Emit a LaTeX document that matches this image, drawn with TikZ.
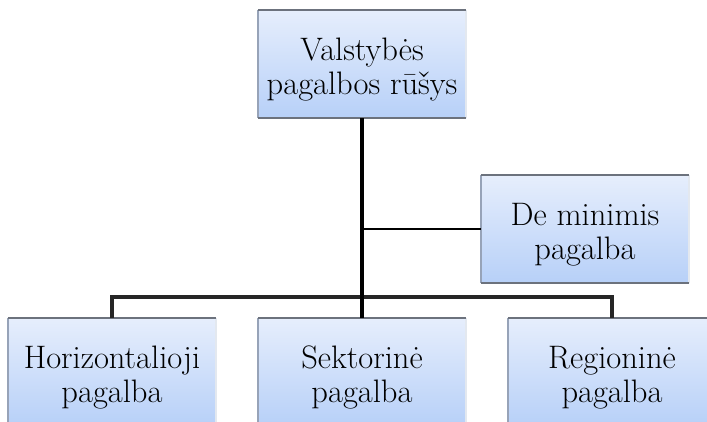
\documentclass[tikz,border=0pt]{standalone}
\usepackage{fontspec}
\usetikzlibrary{positioning,calc}
\definecolor{boxtop}{HTML}{E6EEFC}
\definecolor{boxbot}{HTML}{B7D0F8}
\definecolor{edgedark}{HTML}{6C727D}
\definecolor{edgeleft}{HTML}{97A3B8}
\definecolor{edgeright}{HTML}{E3E8EF}

\begin{document}
\begin{tikzpicture}[x=1pt,y=-1pt,
  aidbox/.style={rectangle, minimum width=208pt, minimum height=108pt, inner sep=0pt,
    top color=boxtop, bottom color=boxbot, draw=none, align=center,
    font=\fontsize{32.5}{34}\selectfont, text=black, text height=64pt, text depth=4pt},
  trunk/.style={line width=4pt, black},
  branch/.style={line width=3.2pt, black!85},
  twig/.style={line width=2.4pt, black}]
  % Page size of the reference (pixels as points, y downwards)
  \useasboundingbox (0,0) rectangle (707,421);
  \clip (0,0) rectangle (707,421);
  \def\bary{297}
  \def\lowy{372}

  % Boxes
  \node[aidbox] (mainbox) at (362,64) {Valstybės\\pagalbos rūšys};
  \node[aidbox] (deminbox) at (585,229) {De minimis\\pagalba};
  \node[aidbox] (horizbox) at (112,\lowy) {Horizontalioji\\pagalba};
  \node[aidbox] (sektbox) at (362,\lowy) {Sektorinė\\pagalba};
  \node[aidbox] (regbox) at (612,\lowy) {Regioninė\\pagalba};

  % Box edges: dark top and bottom, light sides
  \foreach \b in {mainbox,deminbox,horizbox,sektbox,regbox} {
    \draw[edgeleft, line width=1.5pt] (\b.north west) -- (\b.south west);
    \draw[edgeright, line width=1.5pt] (\b.north east) -- (\b.south east);
    \draw[edgedark, line width=2pt] (\b.north west) -- (\b.north east);
    \draw[edgedark, line width=2pt] (\b.south west) -- (\b.south east);
  }

  % Connectors
  \coordinate (bar) at (362,\bary);
  \coordinate (tap) at (mainbox.south |- deminbox.west);
  \draw[branch] (horizbox.north) |- (bar) -| (regbox.north);
  \draw[trunk] (mainbox.south) -- (sektbox.north);
  \draw[twig] (tap) -- (deminbox.west);
\end{tikzpicture}
\end{document}
